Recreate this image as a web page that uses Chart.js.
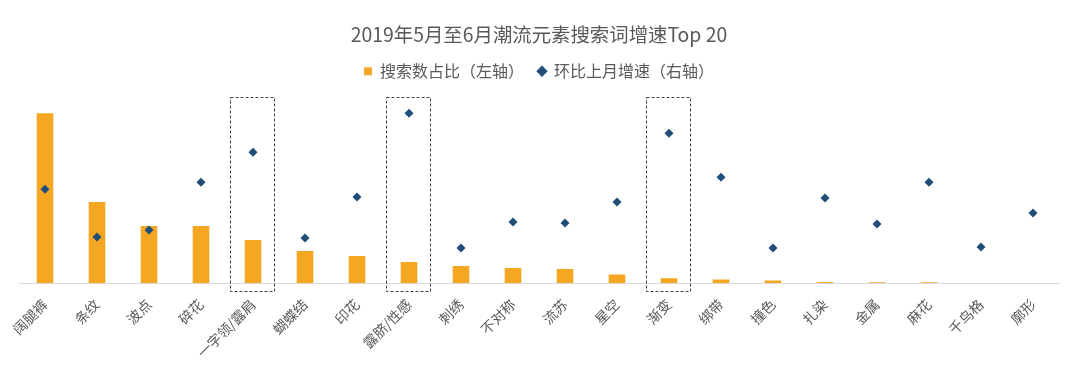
<!DOCTYPE html>
<html>
<head>
<meta charset="utf-8">
<script src="https://cdn.jsdelivr.net/npm/chart.js@4.4.1/dist/chart.umd.min.js"></script>
<style>
  html, body { margin: 0; padding: 0; background: #ffffff; }
  #wrap { width: 1080px; height: 365px; position: relative; }
</style>
</head>
<body>
<div id="wrap"><canvas id="c" width="1080" height="365"></canvas></div>
<script>
// ---- data ----
const categories = ['阔腿裤', '条纹', '波点', '碎花', '一字领/露肩', '蝴蝶结', '印花', '露脐/性感', '刺绣', '不对称',
                    '流苏', '星空', '渐变', '绑带', '撞色', '扎染', '金属', '麻花', '千鸟格', '廓形'];
const searchShare = [17.0, 8.1, 5.7, 5.7, 4.3, 3.2, 2.7, 2.1, 1.7, 1.5,
                     1.4, 0.85, 0.48, 0.34, 0.24, 0.1, 0.08, 0.08, 0.0, 0.0];
const growthRate = [94, 46, 53, 101, 131, 45, 86, 170, 35, 61,
                    60, 81, 150, 106, 35, 85, 59, 101, 36, 70];
const highlighted = ['一字领/露肩', '露脐/性感', '渐变'];
const seriesNames = ['搜索数占比（左轴）', '环比上月增速（右轴）'];
const titleText = '2019年5月至6月潮流元素搜索词增速Top 20';
const leftMax = 19.4;
const rightMax = 194;
const boxTopValue = 186; // right-axis level of the top edge of the highlight boxes

const FONT = '"Noto Sans CJK SC", "Noto Sans", sans-serif';
const TXT = '#595959';

const dashedBoxes = {
  id: 'dashedBoxes',
  afterDatasetsDraw(chart) {
    const x = chart.scales.x, yR = chart.scales.y1;
    const ctx = chart.ctx;
    ctx.save();
    ctx.strokeStyle = '#404040';
    ctx.lineWidth = 1;
    ctx.setLineDash([3, 2]);
    const half = x.width / categories.length * 0.42;
    const top = yR.getPixelForValue(boxTopValue);
    const bottom = chart.chartArea.bottom + 8;
    highlighted.forEach(name => {
      const cx = x.getPixelForValue(categories.indexOf(name)) - 1;
      ctx.strokeRect(Math.round(cx - half) + 0.5, Math.round(top) + 0.5, Math.round(2 * half), Math.round(bottom - top));
    });
    ctx.restore();
  }
};

new Chart(document.getElementById('c'), {
  type: 'bar',
  data: {
    labels: categories,
    datasets: [
      {
        label: seriesNames[0],
        data: searchShare,
        backgroundColor: '#F5A623',
        borderWidth: 0,
        barPercentage: 0.32,
        categoryPercentage: 1.0,
        yAxisID: 'y',
        pointStyle: 'rect',
        order: 2
      },
      {
        type: 'line',
        label: seriesNames[1],
        data: growthRate,
        showLine: false,
        yAxisID: 'y1',
        pointStyle: 'rectRot',
        pointRadius: 4.5,
        pointHoverRadius: 4.5,
        backgroundColor: '#1F4E79',
        borderColor: '#1F4E79',
        borderWidth: 0,
        order: 1
      }
    ]
  },
  options: {
    responsive: false,
    animation: false,
    devicePixelRatio: 1,
    layout: { padding: { left: 19, right: 21, top: 0, bottom: 0 } },
    plugins: {
      title: {
        display: true,
        text: titleText,
        color: TXT,
        font: { family: FONT, size: 19.4, weight: 'normal' },
        padding: { top: 23, bottom: 3 }
      },
      legend: {
        display: true,
        position: 'top',
        labels: {
          color: TXT,
          font: { family: FONT, size: 16 },
          usePointStyle: true,
          boxWidth: 8,
          boxHeight: 8,
          padding: 14,
          sort: (a, b) => a.datasetIndex - b.datasetIndex
        }
      },
      tooltip: { enabled: false }
    },
    scales: {
      x: {
        offset: true,
        grid: { display: false, drawTicks: false },
        border: { display: true, color: '#D9D9D9', width: 1 },
        afterFit: (scale) => { scale.height = 82; },
        ticks: {
          color: TXT,
          font: { family: FONT, size: 14 },
          minRotation: 45,
          maxRotation: 45,
          autoSkip: false,
          padding: 13
        }
      },
      y: { display: false, min: 0, max: leftMax },
      y1: { display: false, position: 'right', min: 0, max: rightMax }
    }
  },
  plugins: [dashedBoxes]
});
</script>
</body>
</html>
